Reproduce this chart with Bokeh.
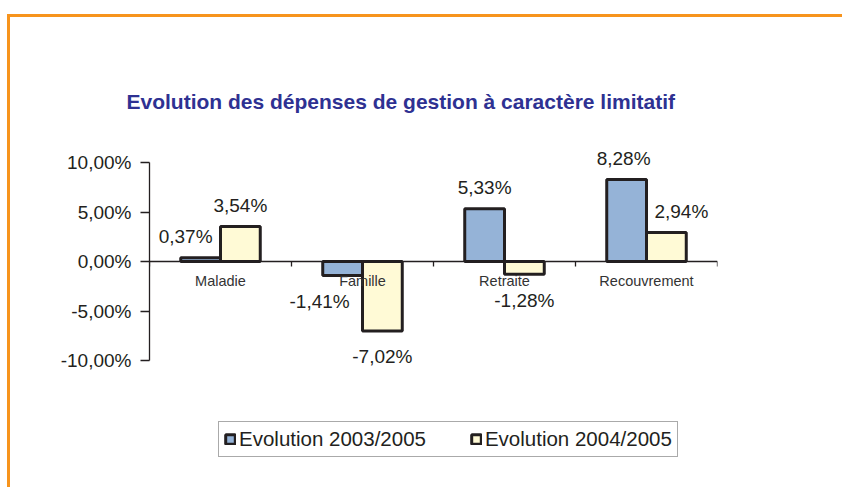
from bokeh.plotting import figure
from bokeh.models import (ColumnDataSource, Range1d, LinearAxis, FixedTicker,
                          Legend, LegendItem, Title)
from bokeh.core.properties import value
from bokeh.layouts import column
from bokeh.embed import file_html
from bokeh.resources import INLINE

# ---- data ----
categories = ["Maladie", "Famille", "Retraite", "Recouvrement"]
evol_2003_2005 = [0.37, -1.41, 5.33, 8.28]
evol_2004_2005 = [3.54, -7.02, -1.28, 2.94]
series_names = ["Evolution 2003/2005", "Evolution 2004/2005"]
y_ticks = [-10, -5, 0, 5, 10]
y_tick_labels = ["-10,00%", "-5,00%", "0,00%", "5,00%", "10,00%"]
title_text = "Evolution des dépenses de gestion à caractère limitatif"

# ---- style ----
FONT = "Liberation Sans"
BLUE = "#95B3D7"
CREAM = "#FFFAD6"
DARK = "#231F20"
ORANGE = "#F7941D"
BAR_W = 0.28
# label x nudges (px) to avoid overlaps, like the original
nudge_a = [-15, -23, 0, -3]
nudge_b = [0, 0, 0, 15]

def fmt(v):
    return f"{v:.2f}".replace(".", ",") + "%"

n = len(categories)
centers = [i + 0.5 for i in range(n)]
src = ColumnDataSource(dict(
    xa=[c - BAR_W / 2 for c in centers], xb=[c + BAR_W / 2 for c in centers],
    a=evol_2003_2005, b=evol_2004_2005,
    la=[fmt(v) for v in evol_2003_2005], lb=[fmt(v) for v in evol_2004_2005],
    ya_off=[-21 if v >= 0 else 26 for v in evol_2003_2005],
    yb_off=[-21 if v >= 0 else 26 for v in evol_2004_2005],
    xa_off=nudge_a, xb_off=nudge_b,
))

# frame: 360 px tall; the -10..10 axis occupies 198 px of it
PX = 9.9
y_lo = -10 - 117 / PX
y_hi = 10 + 45 / PX

p = figure(x_range=Range1d(0, n), y_range=Range1d(y_lo, y_hi),
           width=832, height=470, output_backend="svg", toolbar_location=None,
           x_axis_location=None,
           min_border_left=139, min_border_right=125, min_border_top=100,
           min_border_bottom=10, background_fill_color="white",
           border_fill_color="white", outline_line_color=None)
p.grid.visible = False

# y axis
yax = p.yaxis[0]
yax.bounds = (-10, 10)
yax.ticker = FixedTicker(ticks=y_ticks)
yax.major_label_overrides = {t: l for t, l in zip(y_ticks, y_tick_labels)}
yax.minor_tick_line_color = None
yax.major_tick_in = 0
yax.major_tick_out = 9
yax.axis_line_color = DARK
yax.axis_line_width = 1.3
yax.major_tick_line_color = DARK
yax.major_tick_line_width = 1.3
yax.major_label_text_font = FONT
yax.major_label_text_font_size = "19px"
yax.major_label_text_color = "#231F20"
yax.major_label_standoff = 9

# category labels at zero line
cax = LinearAxis(fixed_location=0, ticker=FixedTicker(ticks=centers),
                 major_label_overrides={c: l for c, l in zip(centers, categories)},
                 major_tick_line_color=None, minor_tick_line_color=None,
                 axis_line_color=None, major_label_text_font=FONT,
                 major_label_text_font_size="14.5px", major_label_text_color="#333333",
                 major_label_standoff=5)
p.add_layout(cax, "below")

# boundary ticks at zero line
bax = LinearAxis(fixed_location=0, ticker=FixedTicker(ticks=list(range(n + 1))),
                 major_label_text_font_size="0px", major_label_text_color=None,
                 minor_tick_line_color=None, major_tick_in=0, major_tick_out=5,
                 axis_line_color=DARK, axis_line_width=1.3,
                 major_tick_line_color=DARK, major_tick_line_width=1.3)
p.add_layout(bax, "below")

ra = p.vbar(x="xa", top="a", bottom=0, width=BAR_W, source=src,
            fill_color=BLUE, line_color=DARK, line_width=3)
rb = p.vbar(x="xb", top="b", bottom=0, width=BAR_W, source=src,
            fill_color=CREAM, line_color=DARK, line_width=3)

for xc, col, lab, xo, yo in [("xa", "a", "la", "xa_off", "ya_off"),
                             ("xb", "b", "lb", "xb_off", "yb_off")]:
    p.text(x=xc, y=col, text=lab, source=src,
           x_offset=xo, y_offset=yo, text_align="center", text_baseline="middle",
           text_font=value(FONT), text_font_size=value("19px"),
           text_color="#231F20")

# title
t = Title(text=title_text, align="left", offset=-23, standoff=9,
          text_font=FONT, text_font_size="21px", text_font_style="bold",
          text_color="#2E3192")
p.add_layout(t, "above")

legend = Legend(items=[LegendItem(label=series_names[0], renderers=[ra]),
                       LegendItem(label=series_names[1], renderers=[rb])],
                orientation="horizontal", location=(69, 20),
                label_text_font=FONT, label_text_font_size="20.5px",
                label_text_color="#231F20", glyph_width=12, glyph_height=12,
                label_standoff=3, spacing=44, padding=5,
                border_line_color="#555555", border_line_width=1,
                background_fill_color="white", background_fill_alpha=1)
p.add_layout(legend, "center")

layout = column(p, styles={"border-top": f"3px solid {ORANGE}",
                           "border-left": f"3px solid {ORANGE}",
                           "margin-top": "14px", "margin-left": "7px"})

open("out.html", "w").write(file_html(layout, INLINE))
